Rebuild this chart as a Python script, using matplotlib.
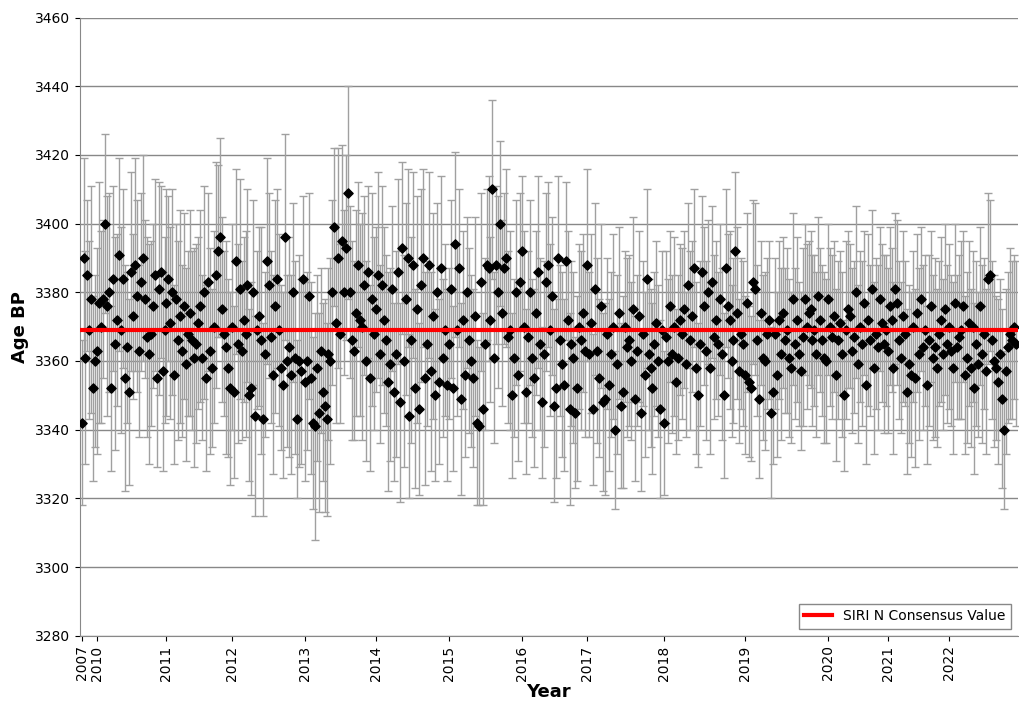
import numpy as np
from matplotlib import pyplot as plt

years = ["2007", "2010", "2011", "2012", "2013", "2014", "2015", "2016",
         "2017", "2018", "2019", "2020", "2021", "2022"]

# measured ages, one list per year block
y2007 = [3342, 3390, 3361, 3385, 3369, 3378, 3352, 3360]
y2010 = [3363, 3377, 3370, 3378, 3400, 3376, 3380, 3352, 3384, 3365, 3372, 3391, 3369, 3384, 3355, 3364, 3351, 3386,
         3373, 3388, 3379, 3363, 3383, 3390, 3378, 3367, 3362, 3368, 3376, 3385, 3355, 3381, 3386, 3357, 3369]
y2011 = [3377, 3384, 3371, 3380, 3356, 3378, 3366, 3373, 3363, 3376, 3359, 3368, 3374, 3366, 3361, 3365, 3371, 3376,
         3361, 3380, 3355, 3383, 3363, 3358, 3370, 3385, 3392, 3396, 3375, 3368, 3364, 3358, 3352]
y2012 = [3370, 3351, 3389, 3365, 3381, 3363, 3372, 3368, 3382, 3350, 3352, 3380, 3344, 3369, 3373, 3366, 3343, 3362,
         3389, 3382, 3367, 3356, 3376, 3384, 3369, 3358, 3353, 3396, 3360, 3364, 3356, 3380, 3361, 3343, 3360, 3357, 3384]
y2013 = [3354, 3360, 3379, 3355, 3342, 3341, 3358, 3345, 3363, 3351, 3347, 3343, 3362, 3360, 3380, 3399, 3371, 3390,
         3368, 3395, 3380, 3393, 3409, 3380, 3366, 3363, 3374, 3388, 3372, 3370, 3382, 3360, 3386, 3355, 3378, 3368]
y2014 = [3375, 3385, 3362, 3382, 3372, 3366, 3354, 3359, 3381, 3351, 3362, 3386, 3348, 3393, 3360, 3378, 3390, 3344,
         3366, 3388, 3352, 3375, 3346, 3382, 3390, 3355, 3365, 3388, 3357, 3373, 3350, 3380, 3354, 3387, 3361, 3369, 3353]
y2015 = [3365, 3381, 3352, 3394, 3369, 3387, 3349, 3372, 3356, 3380, 3366, 3360, 3355, 3373, 3342, 3341, 3383, 3346,
         3365, 3388, 3387, 3372, 3410, 3361, 3388, 3380, 3400, 3374, 3387, 3390, 3367, 3369, 3350, 3361, 3380, 3356, 3383]
y2016 = [3392, 3370, 3351, 3367, 3380, 3361, 3355, 3374, 3386, 3365, 3348, 3362, 3383, 3388, 3369, 3379, 3347, 3352,
         3390, 3366, 3359, 3353, 3389, 3372, 3346, 3365, 3361, 3345, 3352, 3370, 3366, 3374, 3363]
y2017 = [3388, 3362, 3371, 3346, 3381, 3363, 3355, 3376, 3348, 3349, 3368, 3353, 3362, 3370, 3340, 3359, 3374, 3347,
         3351, 3370, 3364, 3366, 3360, 3375, 3349, 3363, 3373, 3345, 3368, 3356, 3384, 3362, 3358, 3352, 3365, 3371,
         3360, 3346, 3369]
y2018 = [3342, 3367, 3360, 3376, 3362, 3370, 3354, 3361, 3372, 3368, 3375, 3359, 3382, 3366, 3373, 3387, 3358, 3350,
         3365, 3386, 3376, 3363, 3380, 3358, 3383, 3367, 3372, 3365, 3378, 3362, 3350, 3387, 3376, 3372, 3360, 3366,
         3392, 3374, 3357, 3368, 3365]
y2019 = [3356, 3377, 3354, 3352, 3383, 3381, 3366, 3349, 3374, 3361, 3360, 3368, 3372, 3345, 3351, 3368, 3356, 3372,
         3362, 3374, 3366, 3369, 3361, 3358, 3378, 3365, 3372, 3362, 3357, 3367, 3378, 3370, 3374, 3375, 3366, 3369,
         3362, 3379, 3372, 3366, 3361, 3360]
y2020 = [3378, 3370, 3367, 3373, 3356, 3366, 3371, 3362, 3350, 3369, 3375, 3373, 3363, 3367, 3380, 3359, 3370, 3365,
         3377, 3353, 3372, 3366, 3381, 3358, 3368, 3364, 3378, 3371, 3365, 3369]
y2021 = [3363, 3376, 3372, 3358, 3381, 3377, 3366, 3361, 3373, 3368, 3351, 3359, 3356, 3370, 3355, 3374, 3362, 3378,
         3364, 3369, 3353, 3366, 3376, 3361, 3364, 3358, 3368, 3372, 3362, 3375, 3365]
y2022 = [3370, 3363, 3358, 3377, 3364, 3367, 3369, 3376, 3356, 3361, 3371, 3358, 3370, 3352, 3365, 3359, 3376, 3362,
         3368, 3357, 3384, 3385, 3366, 3360, 3358, 3354, 3362, 3349, 3340, 3357, 3364, 3368, 3366, 3370, 3365]

blocks = [y2007, y2010, y2011, y2012, y2013, y2014, y2015, y2016, y2017, y2018, y2019, y2020, y2021, y2022]

# one-sigma errors (typed, trimmed to number of points)
err = [24, 29, 31, 22, 26, 33, 27, 25, 30, 35, 28, 23, 26, 32, 29, 24, 27, 31, 25, 28,
       30, 26, 33, 22, 27, 29, 24, 31, 28, 25, 26, 30, 23, 29, 32, 27, 24, 28, 26, 31,
       25, 29, 27, 33, 24, 28, 30, 26, 22, 29, 31, 25, 27, 28, 24, 30, 26, 32, 29, 25,
       28, 24, 31, 27, 26, 30, 23, 28, 33, 25, 29, 27, 24, 31, 26, 28, 30, 25, 27, 29,
       32, 26, 24, 30, 28, 25, 31, 27, 29, 23, 26, 33, 28, 24, 30, 27, 25, 29, 31, 26,
       28, 24, 27, 30, 25, 32, 29, 26, 28, 23, 31, 27, 24, 29, 26, 30, 28, 25, 33, 27,
       29, 24, 26, 31, 28, 25, 30, 27, 23, 29, 32, 26, 28, 24, 27, 31, 25, 29, 26, 30,
       24, 28, 33, 26, 29, 25, 27, 31, 28, 24, 30, 26, 29, 27, 25, 32, 28, 24, 26, 30,
       27, 29, 25, 31, 28, 26, 24, 30, 27, 29, 33, 25, 28, 26, 31, 24, 27, 29, 30, 25,
       26, 24, 27, 23, 25, 28, 22, 26, 24, 27, 25, 23, 28, 26, 24, 22, 27, 25, 26, 29,
       24, 23, 26, 28, 25, 22, 27, 24, 26, 25, 23, 28, 24, 27, 22, 26, 25, 29, 24, 23,
       27, 25, 26, 22, 28, 24, 25, 27, 23, 26, 24, 28, 25, 22, 27, 26, 24, 25, 23, 28,
       26, 24, 22, 27, 25, 23, 26, 28, 24, 25, 22, 27, 24, 26, 23, 25, 28, 24, 26, 22,
       25, 27, 23, 24, 26, 28, 22, 25, 24, 27, 23, 26, 25, 24, 28, 22, 26, 25, 23, 27,
       24, 22, 25, 23, 21, 24, 26, 22, 23, 25, 21, 24, 22, 26, 23, 21, 25, 24, 22, 23,
       26, 21, 24, 22, 25, 23, 21, 24, 26, 22, 23, 25, 21, 24, 22, 23, 26, 21, 25, 22,
       24, 23, 21, 22, 25, 24, 23, 21, 26, 22, 24, 23, 25, 21, 22, 24, 23, 26, 22, 21,
       24, 25, 22, 23, 21, 24, 26, 22, 23, 25, 21, 22, 24, 23, 25, 22, 21, 24, 23, 22,
       25, 22, 24, 21, 23, 26, 22, 24, 21, 23, 25, 22, 24, 23, 21, 22, 25, 24, 22, 23,
       24, 22, 25, 23, 21, 24, 22, 26, 23, 21, 24, 22, 25, 23, 22, 24, 21, 23, 25, 22,
       23, 25, 22, 24, 21, 23, 26, 22, 24, 23, 21, 25, 22, 24, 23, 22, 25, 21, 24, 23,
       24, 22, 26, 23, 25, 21, 24, 22, 23, 25, 22, 24, 26, 23, 21, 24, 22, 25, 23, 24,
       22, 25, 23, 21, 24, 26, 22, 23, 25, 24, 23, 22, 25, 24, 21, 23, 26, 22, 24, 25,
       22, 23, 25, 21, 24, 22, 26, 23, 24, 22, 25, 23, 21, 24, 22, 25, 23, 24, 22, 26]

consensus = 3369

age = [v for b in blocks for v in b]
n = len(age)
x = np.arange(n)
e = err[:n]
tick_pos = np.cumsum([0] + [len(b) for b in blocks[:-1]])

fig, ax = plt.subplots(figsize=(10.2, 7.04), dpi=100)
fig.subplots_adjust(left=0.078, right=0.998, top=0.975, bottom=0.097)

ax.errorbar(x, age, yerr=e, fmt='none', ecolor='#a0a0a0', elinewidth=1, capsize=3, capthick=1, zorder=2)
ax.scatter(x, age, marker='D', s=22, color='black', zorder=3)
ax.plot([-1, n], [consensus, consensus], color='red', lw=3, label='SIRI N Consensus Value', zorder=4)

ax.set_xlim(-1, n)
ax.set_ylim(3280, 3460)
ax.set_yticks(np.arange(3280, 3461, 20))
ax.yaxis.grid(True, color='#888888', lw=1)
ax.set_axisbelow(True)
ax.set_xticks(tick_pos)
ax.set_xticklabels(years, rotation=90, fontsize=10)
ax.tick_params(axis='y', labelsize=10)
ax.set_xlabel('Year', fontsize=13, fontweight='bold', labelpad=2)
ax.set_ylabel('Age BP', fontsize=13, fontweight='bold')
for s in ['top', 'right']:
    ax.spines[s].set_visible(False)
for s in ['left', 'bottom']:
    ax.spines[s].set_color('#888888')

ax.legend(loc='lower right', fontsize=10, fancybox=False, edgecolor='#888888', framealpha=1)
fig.savefig('out.png')
